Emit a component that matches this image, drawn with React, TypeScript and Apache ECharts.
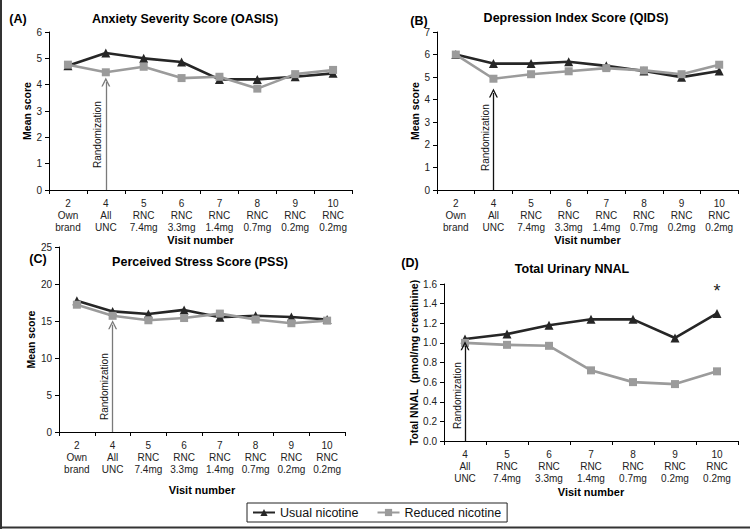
import React, { useEffect, useRef } from "react";
import * as echarts from "echarts";

const visitCats = ["2\nOwn\nbrand", "4\nAll\nUNC", "5\nRNC\n7.4mg", "6\nRNC\n3.3mg", "7\nRNC\n1.4mg", "8\nRNC\n0.7mg", "9\nRNC\n0.2mg", "10\nRNC\n0.2mg"];
const visitCatsD = ["4\nAll\nUNC", "5\nRNC\n7.4mg", "6\nRNC\n3.3mg", "7\nRNC\n1.4mg", "8\nRNC\n0.7mg", "9\nRNC\n0.2mg", "10\nRNC\n0.2mg"];

const anxietyUsual = [4.72, 5.2, 5.0, 4.86, 4.2, 4.2, 4.3, 4.43];
const anxietyReduced = [4.76, 4.47, 4.68, 4.25, 4.3, 3.85, 4.4, 4.56];
const depressionUsual = [6.0, 5.6, 5.6, 5.68, 5.5, 5.27, 5.0, 5.27];
const depressionReduced = [6.0, 4.93, 5.13, 5.26, 5.4, 5.3, 5.13, 5.55];
const stressUsual = [17.75, 16.3, 15.95, 16.5, 15.5, 15.7, 15.55, 15.2];
const stressReduced = [17.2, 15.7, 15.1, 15.4, 16.0, 15.2, 14.7, 15.05];
const nnalUsual = [1.04, 1.09, 1.18, 1.24, 1.24, 1.05, 1.3];
const nnalReduced = [1.0, 0.98, 0.97, 0.72, 0.6, 0.58, 0.71];

const randomizationTip = [4.1, 4.3, 14.5, 0.97];
const asteriskValue = 1.53;

const FONT = "Liberation Sans, Arial, sans-serif";
const USUAL = "#262626";
const REDUCED = "#9b9b9b";
const arrowPath = "path://M0,10 L5,0 L10,10 L8.4,10 L5,3.2 L1.6,10 Z";

function App() {
  const ref = useRef<HTMLDivElement>(null);
  useEffect(() => {
    if (!ref.current) return;
    const chart = echarts.init(ref.current, null, { renderer: "svg" });

    const grids = [
      { left: 49, top: 32, width: 303, height: 158 },
      { left: 437, top: 32, width: 301, height: 158 },
      { left: 59, top: 247, width: 286, height: 185 },
      { left: 444, top: 284, width: 294, height: 157 },
    ];

    const xAxisBase = (i: number, data: string[], nameGap: number) => ({
      type: "category",
      gridIndex: i,
      data,
      boundaryGap: true,
      name: "Visit number",
      nameLocation: "middle",
      nameGap,
      nameTextStyle: { fontWeight: "bold", fontSize: 11, color: "#000", fontFamily: FONT },
      axisLine: { lineStyle: { color: "#000", width: 1 } },
      axisTick: { show: true, inside: false, length: 4, alignWithLabel: false, lineStyle: { color: "#000" } },
      axisLabel: { fontSize: 10, color: "#222", lineHeight: 12, margin: 7, interval: 0, fontFamily: FONT },
    });

    const yAxisBase = (i: number, max: number, interval: number, name: string, nameGap: number, decimals: number, nameSize: number) => ({
      type: "value",
      gridIndex: i,
      min: 0,
      max,
      interval,
      name,
      nameLocation: "middle",
      nameGap,
      nameTextStyle: { fontWeight: "bold", fontSize: nameSize, color: "#000", fontFamily: FONT },
      splitLine: { show: false },
      axisLine: { show: true, lineStyle: { color: "#000", width: 1 } },
      axisTick: { show: true, length: 4, lineStyle: { color: "#000" } },
      axisLabel: {
        fontSize: 10,
        color: "#222",
        margin: 7,
        fontFamily: FONT,
        formatter: (v: number) => v.toFixed(decimals),
      },
    });

    const mkSeries = (i: number, name: string, data: number[], extra: any = {}) => ({
      type: "line",
      name,
      xAxisIndex: i,
      yAxisIndex: i,
      data,
      symbol: name === "Usual nicotine" ? "triangle" : "rect",
      symbolSize: name === "Usual nicotine" ? 9 : 8,
      itemStyle: { color: name === "Usual nicotine" ? USUAL : REDUCED },
      lineStyle: { color: name === "Usual nicotine" ? USUAL : REDUCED, width: 2.6 },
      z: name === "Usual nicotine" ? 3 : 4,
      ...extra,
    });

    const randMark = (catIndex: number, tip: number, color: string, dist: number) => ({
      silent: true,
      symbol: ["none", arrowPath],
      symbolSize: 9,
      lineStyle: { color, width: 1.3, type: "solid" },
      label: {
        show: true,
        formatter: "Randomization",
        position: "insideStartTop",
        distance: [dist, 3],
        color: "#111",
        fontSize: 10,
        fontFamily: FONT,
      },
      emphasis: { disabled: true },
      data: [[{ coord: [catIndex, 0] }, { coord: [catIndex, tip] }]],
    });

    const titles = [
      { text: "(A)", x: 18, y: 19 },
      { text: "Anxiety Severity Score (OASIS)", x: 185, y: 19 },
      { text: "(B)", x: 419, y: 21 },
      { text: "Depression Index Score (QIDS)", x: 576, y: 18 },
      { text: "(C)", x: 38, y: 259 },
      { text: "Perceived Stress Score (PSS)", x: 200, y: 262 },
      { text: "(D)", x: 410, y: 263 },
      { text: "Total Urinary NNAL", x: 572, y: 269 },
    ];

    const option: any = {
      animation: false,
      backgroundColor: "#fff",
      textStyle: { fontFamily: FONT },
      grid: grids,
      legend: {
        left: 247,
        top: 503,
        orient: "horizontal",
        data: ["Usual nicotine", "Reduced nicotine"],
        itemWidth: 22,
        itemHeight: 9,
        itemGap: 18,
        padding: [3, 6, 3, 5],
        borderColor: "#222",
        borderWidth: 1,
        textStyle: { fontSize: 12.5, color: "#111", fontFamily: FONT },
        selectedMode: false,
      },
      xAxis: [
        xAxisBase(0, visitCats, 44),
        xAxisBase(1, visitCats, 44),
        xAxisBase(2, visitCats, 52),
        xAxisBase(3, visitCatsD, 45),
      ],
      yAxis: [
        yAxisBase(0, 6, 1, "Mean score", 17, 0, 10.5),
        yAxisBase(1, 7, 1, "Mean score", 17, 0, 10.5),
        yAxisBase(2, 25, 5, "Mean score", 23, 0, 10.5),
        yAxisBase(3, 1.6, 0.2, "Total NNAL  (pmol/mg creatinine)", 25, 1, 10.5),
      ],
      series: [
        mkSeries(0, "Usual nicotine", anxietyUsual, { markLine: randMark(1, randomizationTip[0], "#7a7a7a", 22) }),
        mkSeries(0, "Reduced nicotine", anxietyReduced),
        mkSeries(1, "Usual nicotine", depressionUsual, { markLine: randMark(1, randomizationTip[1], "#111", 19) }),
        mkSeries(1, "Reduced nicotine", depressionReduced),
        mkSeries(2, "Usual nicotine", stressUsual, { markLine: randMark(1, randomizationTip[2], "#7a7a7a", 12) }),
        mkSeries(2, "Reduced nicotine", stressReduced),
        mkSeries(3, "Usual nicotine", nnalUsual, {
          markLine: randMark(0, randomizationTip[3], "#111", 12),
          markPoint: {
            symbol: "circle",
            symbolSize: 1,
            itemStyle: { color: "rgba(0,0,0,0)" },
            label: { show: true, formatter: "*", fontSize: 18, color: "#222", position: "inside" },
            data: [{ coord: [6, asteriskValue] }],
          },
        }),
        mkSeries(3, "Reduced nicotine", nnalReduced),
      ],
      graphic: [
        ...titles.map((t) => ({
          type: "text",
          x: t.x,
          y: t.y,
          style: {
            text: t.text,
            fontSize: 12.5,
            fontWeight: "bold",
            fontFamily: FONT,
            fill: "#000",
            textAlign: "center",
            textVerticalAlign: "middle",
          },
        })),
        { type: "line", shape: { x1: 1, y1: 0, x2: 1, y2: 529 }, style: { stroke: "#333", lineWidth: 2 } },
        { type: "line", shape: { x1: 0, y1: 527.5, x2: 750, y2: 527.5 }, style: { stroke: "#333", lineWidth: 2 } },
      ],
    };

    chart.setOption(option);
    return () => chart.dispose();
  }, []);

  return <div ref={ref} style={{ position: "absolute", left: 0, top: 0, width: 750, height: 529 }} />;
}

export default App;
